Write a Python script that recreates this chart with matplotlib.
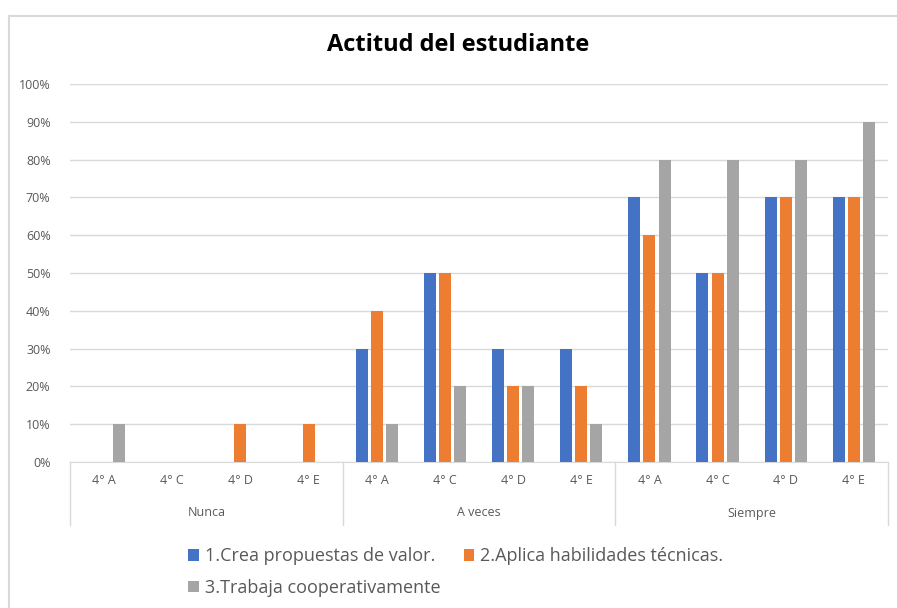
import matplotlib.pyplot as plt
from matplotlib.lines import Line2D

groups = ["Nunca", "A veces", "Siempre"]
cursos = ["4° A", "4° C", "4° D", "4° E"]
series = ["1.Crea propuestas de valor.", "2.Aplica habilidades técnicas.",
          "3.Trabaja cooperativamente"]

crea = [0, 0, 0, 0, 30, 50, 30, 30, 70, 50, 70, 70]
aplica = [0, 0, 10, 10, 40, 50, 20, 20, 60, 50, 70, 70]
trabaja = [10, 0, 0, 0, 10, 20, 20, 10, 80, 80, 80, 90]

colors = ["#4472C4", "#ED7D31", "#A5A5A5"]
txt = "#595959"

plt.rcParams["font.family"] = ["Open Sans", "DejaVu Sans"]

W, H = 897, 608
fig = plt.figure(figsize=(W / 100, H / 100), dpi=100)
x0, x1, ytop, ybot = 70, 888, 84, 462
ax = fig.add_axes([x0 / W, 1 - ybot / H, (x1 - x0) / W, (ybot - ytop) / H])

n = len(crea)
xs = list(range(n))
step, bw = 0.222, 0.176
for k, vals in enumerate([crea, aplica, trabaja]):
    ax.bar([x + (k - 1) * step for x in xs], [v / 100 for v in vals], width=bw,
           color=colors[k], label=series[k], zorder=3)

ax.set_xlim(-0.5, n - 0.5)
ax.set_ylim(0, 1)
ax.set_yticks([i / 10 for i in range(11)])
ax.set_yticklabels([f"{i * 10}%" for i in range(11)], fontsize=9, color=txt)
ax.tick_params(axis="y", length=0, pad=14)
ax.grid(axis="y", color="#D9D9D9", linewidth=1, zorder=0)
for s in ["top", "right", "left"]:
    ax.spines[s].set_visible(False)
ax.spines["bottom"].set_color("#D9D9D9")
ax.set_xticks([])

# multi-level category labels
h = ybot - ytop
for i in range(n):
    ax.text(i, -18 / h, cursos[i % 4], transform=ax.get_xaxis_transform(),
            ha="center", va="center", fontsize=9, color=txt)
for g, name in enumerate(groups):
    ax.text(g * 4 + 1.5, -51 / h, name, transform=ax.get_xaxis_transform(),
            ha="center", va="center", fontsize=9, color=txt)
for b in [-0.5, 3.5, 7.5, 11.5]:
    ax.add_line(Line2D([b, b], [0, -63 / h], transform=ax.get_xaxis_transform(),
                       color="#D9D9D9", linewidth=1, clip_on=False))

fig.text(458 / W, 1 - 45 / H, "Actitud del estudiante", ha="center", va="center",
         fontsize=17, fontweight="bold", color="black")

hs, ls = ax.get_legend_handles_labels()
order = [0, 2, 1]
fig.legend([hs[i] for i in order], [ls[i] for i in order], ncol=2,
           loc="upper left", bbox_to_anchor=(172 / W, 1 - 531 / H), frameon=False,
           fontsize=13, labelcolor=txt, handlelength=0.6, handleheight=0.6,
           handletextpad=0.3, columnspacing=1.3, labelspacing=0.75)

# chart border
fig.add_artist(Line2D([8.5 / W, 1], [1 - 15.5 / H, 1 - 15.5 / H], color="#D9D9D9", linewidth=1.5))
fig.add_artist(Line2D([8.5 / W, 8.5 / W], [0, 1 - 15.5 / H], color="#D9D9D9", linewidth=1.5))

fig.savefig("out.png", dpi=100)
